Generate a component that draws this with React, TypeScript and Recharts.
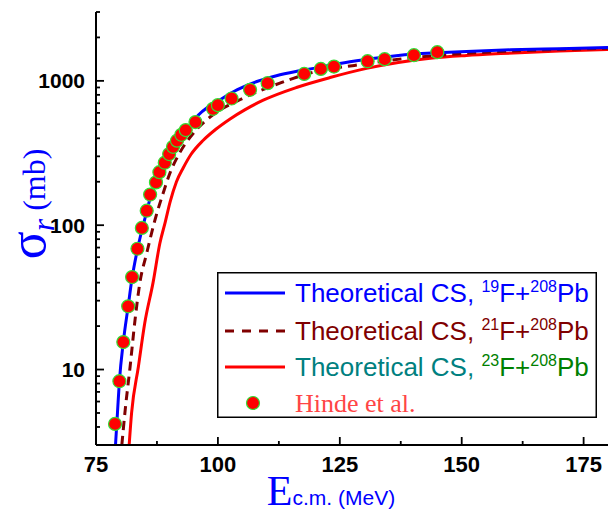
import React from 'react';
import { ComposedChart, Line, Scatter, XAxis, YAxis, Legend } from 'recharts';

// ---- tick values ----
const xTicks = [75, 87.5, 100, 112.5, 125, 137.5, 150, 162.5, 175];
const xMajor = [75, 100, 125, 150, 175];
const yTicks = [3, 4, 5, 6, 7, 8, 9, 10, 20, 30, 40, 50, 60, 70, 80, 90, 100, 200, 300, 400, 500, 600, 700, 800, 900, 1000, 2000, 3000];
const yMajor = [10, 100, 1000];

// ---- Hinde et al. experimental data ----
const hindeE = [78.9, 79.8, 80.6, 81.6, 82.4, 83.5, 84.4, 85.4, 86.1, 87.3, 88.0, 89.1, 90.0, 90.8, 91.6, 92.5, 93.4, 95.4, 99.0, 100.0, 102.8, 106.6, 110.2, 117.7, 121.1, 123.8, 130.7, 134.2, 140.2, 145.0];
const hindeS = [4.2, 8.3, 15.5, 27.4, 43.7, 68.7, 95.7, 126, 163, 198, 233, 271, 311, 349, 385, 423, 456, 518, 640, 679, 755, 867, 964, 1117, 1210, 1256, 1368, 1413, 1506, 1580];

// ---- 19F + 208Pb ----
const f19E = [79.0, 79.4, 79.8, 80.6, 81.6, 82.4, 83.5, 84.4, 85.4, 86.2, 87.3, 88.0, 89.0, 90.0, 91.0, 92.5, 94.0, 96.0, 98.0, 100, 104, 108, 112, 116, 120, 125, 130, 137, 145, 151, 160, 170, 180];
const f19S = [3.0, 5.0, 8.3, 15.5, 27.5, 43, 68, 92, 124, 158, 198, 230, 270, 310, 350, 410, 470, 580, 660, 725, 870, 990, 1085, 1160, 1225, 1320, 1400, 1500, 1565, 1600, 1640, 1670, 1700];

// ---- 21F + 208Pb ----
const f21E = [80.3, 81.0, 82.0, 83.0, 84.0, 85.4, 87.1, 89.0, 90.0, 92.0, 95.0, 99.0, 104.5, 112.7, 120, 128, 140, 151, 165, 180];
const f21S = [3, 5.3, 10.5, 22, 40, 64, 109, 176, 222, 310, 435, 582, 740, 964, 1158, 1280, 1450, 1550, 1630, 1680];

// ---- 23F + 208Pb ----
const f23E = [81.8, 82.3, 83.7, 85.0, 86.7, 88.1, 89.2, 90.2, 91.5, 92.9, 94.5, 97.0, 99.5, 102.5, 105.5, 109.3, 116.1, 123, 130.5, 137, 144, 151, 158, 170, 180];
const f23S = [3, 5, 10.5, 21, 40, 75, 105, 145, 200, 250, 310, 388, 460, 545, 630, 735, 900, 1054, 1220, 1340, 1440, 1500, 1545, 1610, 1650];

const toData = (xs: number[], ys: number[]) => xs.map((x, i) => ({ x, y: ys[i] }));
const hindeData = toData(hindeE, hindeS);
const f19Data = toData(f19E, f19S);
const f21Data = toData(f21E, f21S);
const f23Data = toData(f23E, f23S);

const SANS = '"Liberation Sans", Arial, Helvetica, sans-serif';
const SERIF = '"Liberation Serif", "Times New Roman", serif';
const TICKW = 1.8;

const BottomTick = (props: any) => {
  const { x, y, payload } = props;
  const major = xMajor.includes(payload.value);
  const len = major ? 8 : 4;
  return (
    <g>
      <line x1={x} x2={x} y1={y} y2={y - len} stroke="#000" strokeWidth={TICKW} />
      {major && (
        <text x={x} y={y + 27} textAnchor="middle" fontFamily={SANS} fontWeight="bold" fontSize={22} fill="#000">
          {payload.value}
        </text>
      )}
    </g>
  );
};

const TopTick = (props: any) => {
  const { x, y, payload } = props;
  const major = xMajor.includes(payload.value);
  const len = major ? 8 : 4;
  return <line x1={x} x2={x} y1={y} y2={y + len} stroke="#000" strokeWidth={TICKW} />;
};

const LeftTick = (props: any) => {
  const { x, y, payload } = props;
  const major = yMajor.includes(payload.value);
  const len = major ? 8 : 4;
  return (
    <g>
      <line x1={x} x2={x + len} y1={y} y2={y} stroke="#000" strokeWidth={TICKW} />
      {major && (
        <text x={x - 11} y={y + 7.5} textAnchor="end" fontFamily={SANS} fontWeight="bold" fontSize={21} fill="#000">
          {payload.value}
        </text>
      )}
    </g>
  );
};

const RightTick = (props: any) => {
  const { x, y, payload } = props;
  const major = yMajor.includes(payload.value);
  const len = major ? 8 : 4;
  return <line x1={x} x2={x - len} y1={y} y2={y} stroke="#000" strokeWidth={TICKW} />;
};

const YTitle = () => (
  <text transform="rotate(-90, 45, 204)" x={45} y={204} textAnchor="middle" fill="#0000ff" style={{ whiteSpace: 'pre' }}>
    <tspan fontFamily={SERIF} fontSize={52}>σ</tspan>
    <tspan fontFamily={SERIF} fontStyle="italic" fontSize={32} dy={9}>r</tspan>
    <tspan fontFamily={SERIF} fontSize={32} dy={-9}>{' (mb)'}</tspan>
  </text>
);

const XTitle = () => (
  <text x={331} y={505} textAnchor="middle" fill="#0000ff" style={{ whiteSpace: 'pre' }}>
    <tspan fontFamily={SERIF} fontSize={42}>E</tspan>
    <tspan fontFamily={SANS} fontSize={21}>c.m. (MeV)</tspan>
  </text>
);

const Sup = ({ children }: any) => (
  <tspan fontSize={16} dy={-10}>{children}</tspan>
);

const LegendBox = () => {
  const rowY = [21, 59, 95, 131];
  const tx = 78;
  const fs = 26;
  return (
    <svg width={380} height={146} style={{ display: 'block' }}>
      <rect x={0.75} y={0.75} width={378.5} height={144.5} fill="#fff" stroke="#000" strokeWidth={1.5} />
      <line x1={8} x2={68} y1={rowY[0]} y2={rowY[0]} stroke="#0000ff" strokeWidth={3} />
      <line x1={8} x2={68} y1={rowY[1]} y2={rowY[1]} stroke="#800000" strokeWidth={3} strokeDasharray="9 8" />
      <line x1={8} x2={68} y1={rowY[2]} y2={rowY[2]} stroke="#ff0000" strokeWidth={3} />
      <circle cx={36} cy={rowY[3]} r={6.5} fill="#ff0000" stroke="#33dd33" strokeWidth={1.2} />
      <text x={tx} y={rowY[0] + 9} fontFamily={SANS} fontSize={fs} fill="#0000ff" style={{ whiteSpace: 'pre' }}>
        {'Theoretical CS, '}<Sup>19</Sup><tspan dy={10}>F+</tspan><Sup>208</Sup><tspan dy={10}>Pb</tspan>
      </text>
      <text x={tx} y={rowY[1] + 9} fontFamily={SANS} fontSize={fs} fill="#800000" style={{ whiteSpace: 'pre' }}>
        {'Theoretical CS, '}<Sup>21</Sup><tspan dy={10}>F+</tspan><Sup>208</Sup><tspan dy={10}>Pb</tspan>
      </text>
      <text x={tx} y={rowY[2] + 9} fontFamily={SANS} fontSize={fs} fill="#008080" style={{ whiteSpace: 'pre' }}>
        {'Theoretical CS, '}
        <tspan fill="#008000">
          <Sup>23</Sup><tspan dy={10}>F+</tspan><Sup>208</Sup><tspan dy={10}>Pb</tspan>
        </tspan>
      </text>
      <text x={tx} y={rowY[3] + 9} fontFamily={SERIF} fontSize={fs} fill="#ff4545">
        Hinde et al.
      </text>
    </svg>
  );
};

const Dot = (props: any) => {
  const { cx, cy } = props;
  if (cx == null || cy == null) return null;
  return <circle cx={cx} cy={cy} r={6.5} fill="#ff0000" stroke="#33dd33" strokeWidth={1.2} />;
};

export default function App() {
  return (
    <div style={{ position: 'absolute', left: 0, top: 0, width: 609, height: 514, background: '#fff' }}>
      <ComposedChart width={609} height={514} margin={{ top: 12, right: 1, left: 0, bottom: 0 }}>
        <XAxis
          xAxisId="bottom"
          type="number"
          dataKey="x"
          domain={[75, 180]}
          ticks={xTicks}
          interval={0}
          allowDataOverflow
          height={69}
          tickSize={0}
          tickMargin={0}
          tickLine={false}
          axisLine={{ stroke: '#000', strokeWidth: 2 }}
          tick={<BottomTick />}
          label={{ content: <XTitle /> }}
        />
        <XAxis
          xAxisId="top"
          orientation="top"
          type="number"
          dataKey="x"
          domain={[75, 180]}
          ticks={xTicks}
          interval={0}
          allowDataOverflow
          height={0}
          tickSize={0}
          tickMargin={0}
          tickLine={false}
          axisLine={{ stroke: '#000', strokeWidth: 2 }}
          tick={<TopTick />}
        />
        <YAxis
          yAxisId="left"
          type="number"
          dataKey="y"
          scale="log"
          domain={[3, 3000]}
          ticks={yTicks}
          interval={0}
          allowDataOverflow
          width={96}
          tickSize={0}
          tickMargin={0}
          tickLine={false}
          axisLine={{ stroke: '#000', strokeWidth: 2 }}
          tick={<LeftTick />}
          label={{ content: <YTitle /> }}
        />
        <YAxis
          yAxisId="right"
          orientation="right"
          type="number"
          dataKey="y"
          scale="log"
          domain={[3, 3000]}
          ticks={yTicks}
          interval={0}
          allowDataOverflow
          width={0}
          tickSize={0}
          tickMargin={0}
          tickLine={false}
          axisLine={{ stroke: '#000', strokeWidth: 2 }}
          tick={<RightTick />}
        />
        <Line xAxisId="bottom" yAxisId="left" data={f23Data} dataKey="y" type="monotone" stroke="#ff0000" strokeWidth={3} dot={false} activeDot={false} isAnimationActive={false} />
        <Line xAxisId="bottom" yAxisId="left" data={f21Data} dataKey="y" type="monotone" stroke="#800000" strokeWidth={3} strokeDasharray="9 6" dot={false} activeDot={false} isAnimationActive={false} />
        <Line xAxisId="bottom" yAxisId="left" data={f19Data} dataKey="y" type="monotone" stroke="#0000ff" strokeWidth={3} dot={false} activeDot={false} isAnimationActive={false} />
        <Scatter xAxisId="bottom" yAxisId="left" data={hindeData} dataKey="y" shape={<Dot />} isAnimationActive={false} />
        <Legend
          layout="horizontal"
          verticalAlign="middle"
          align="center"
          content={<LegendBox />}
          wrapperStyle={{ position: 'absolute', left: 217, top: 272, right: 'auto', bottom: 'auto', width: 380, height: 146 }}
        />
      </ComposedChart>
    </div>
  );
}
